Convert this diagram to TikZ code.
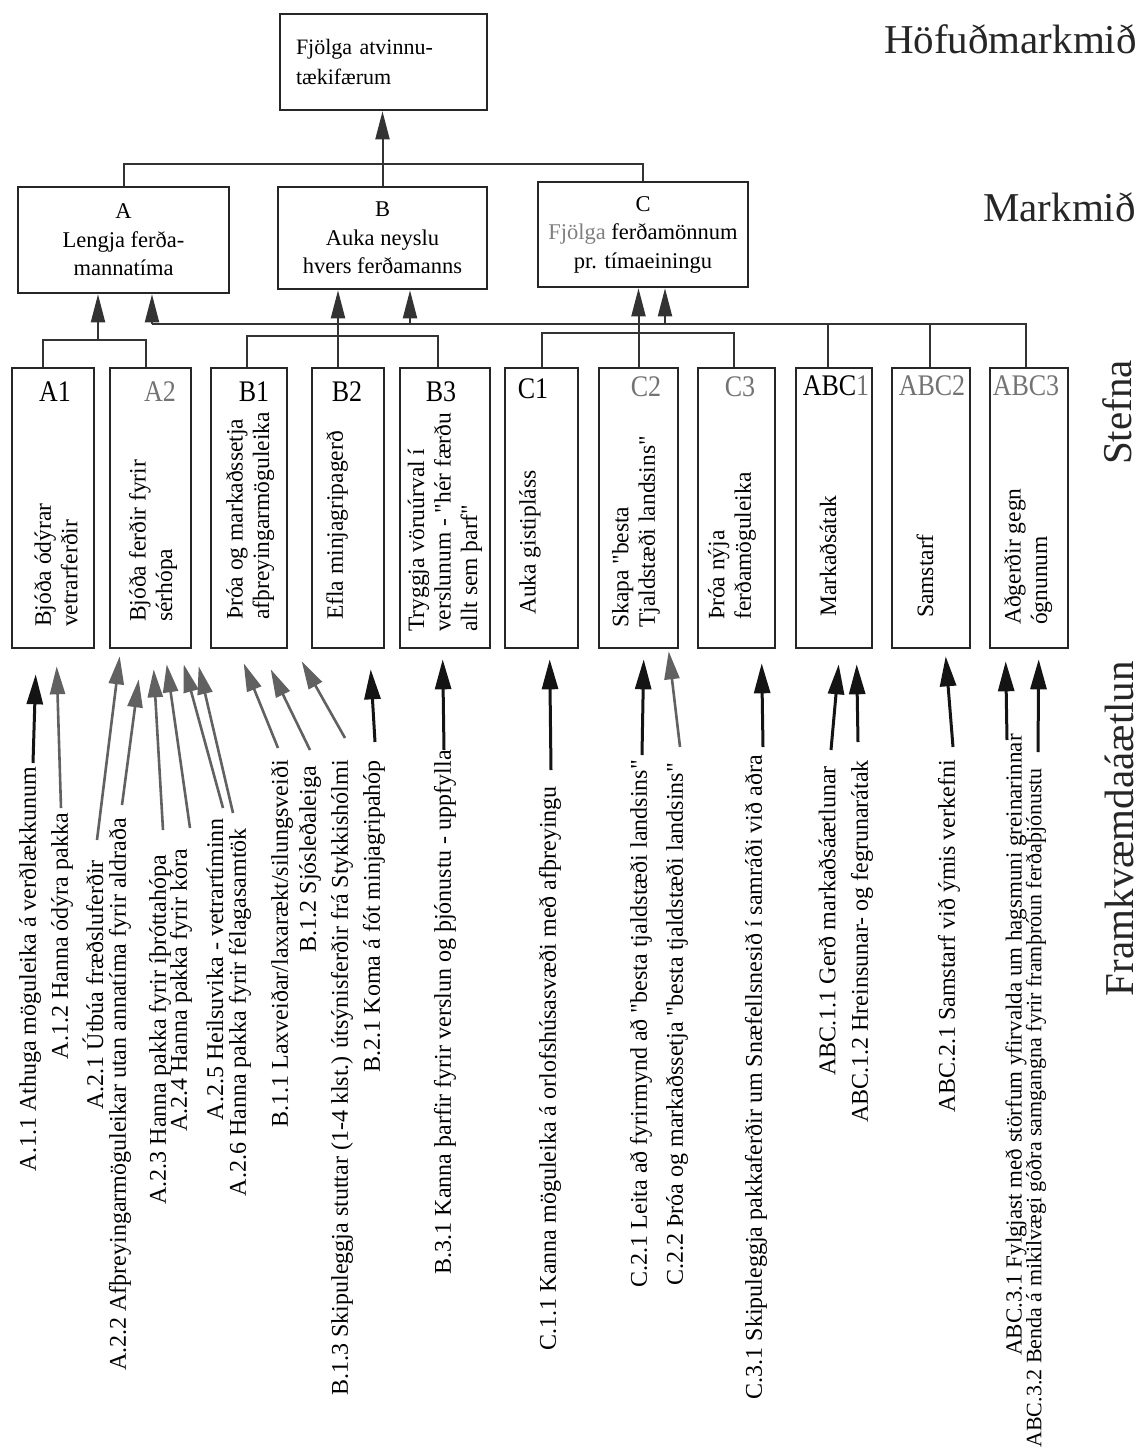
\documentclass[tikz,border=0pt]{standalone}
\usepackage{fontspec}
\usepackage{graphicx}
\setmainfont{Liberation Serif}[Ligatures=TeXOff]
\usetikzlibrary{arrows.meta}
\begin{document}
\begin{tikzpicture}[x=1pt,y=-1pt,
  box/.style={draw=black!85,line width=2.6pt,inner sep=0pt},
  con/.style={draw=black!80,line width=2pt},
  uparr/.style={con,-{Triangle[length=28pt,width=14pt]}},
  barr/.style={draw=black!92,line width=3pt,-{Triangle[length=30pt,width=16pt]}},
  garr/.style={draw=black!62,line width=2.6pt,-{Triangle[length=28pt,width=15pt]}},
  lab/.style={rotate=90,anchor=east,inner sep=0pt,font=\fontsize{24}{28}\selectfont},
  stext/.style={rotate=90,anchor=west,align=left,inner sep=0pt,font=\fontsize{23.5}{26.5}\selectfont},
  code/.style={inner sep=0pt,yscale=1.15,font=\fontsize{26}{30}\selectfont},
  gcode/.style={code,text=black!55},
  title/.style={inner sep=0pt,text=black!85,font=\fontsize{41}{48}\selectfont},
  mtext/.style={box,align=center,font=\fontsize{22.5}{28.5}\selectfont}
]
\fill[white] (0,0) rectangle (1139,1450);
\useasboundingbox (0,0) rectangle (1139,1450);

% titles
\node[title,anchor=base east] (t1) at (1137,54) {Höfuðmarkmið};
\node[title,anchor=base east] (t2) at (1136,222) {Markmið};
\node[title,rotate=90,anchor=base east] (t3) at (1131,360) {Stefna};
\node[title,rotate=90,anchor=base east] (t4) at (1133,661) {Framkvæmdaáætlun};

% top goal
\node[box,minimum width=207pt,minimum height=96pt,text width=175pt,align=left,font=\fontsize{22}{30}\selectfont] (top) at (383.5,62) {Fjölga atvinnu-\\tækifærum};

% goals
\node[mtext,minimum width=211pt,minimum height=106pt] (A) at (123.5,240) {A\\Lengja ferða-\\mannatíma};
\node[mtext,minimum width=209pt,minimum height=102pt] (B) at (382.5,238) {B\\Auka neyslu\\hvers ferðamanns};
\node[mtext,minimum width=210pt,minimum height=105pt] (C) at (643,234.5) {C\\\textcolor{black!50}{Fjölga} ferðamönnum\\pr. tímaeiningu};

% strategy boxes
\node[box,minimum width=82pt,minimum height=280pt] (A1) at (53,508) {};
\node[box,minimum width=81pt,minimum height=280pt] (A2) at (150.5,508) {};
\node[box,minimum width=76pt,minimum height=280pt] (B1) at (249,508) {};
\node[box,minimum width=72pt,minimum height=280pt] (B2) at (348,508) {};
\node[box,minimum width=90pt,minimum height=280pt] (B3) at (445,508) {};
\node[box,minimum width=73pt,minimum height=280pt] (C1) at (541.5,508) {};
\node[box,minimum width=79pt,minimum height=280pt] (C2) at (638.5,508) {};
\node[box,minimum width=77pt,minimum height=280pt] (C3) at (736.5,508) {};
\node[box,minimum width=76pt,minimum height=280pt] (ABC1) at (834,508) {};
\node[box,minimum width=78pt,minimum height=280pt] (ABC2) at (931,508) {};
\node[box,minimum width=78pt,minimum height=280pt] (ABC3) at (1029,508) {};

% codes
\node[code] (A1c) at (55,392) {A1};
\node[gcode] (A2c) at (160,392) {A2};
\node[code] (B1c) at (254,392) {B1};
\node[code] (B2c) at (347,392) {B2};
\node[code] (B3c) at (441,392) {B3};
\node[code] (C1c) at (533,389) {C1};
\node[gcode] (C2c) at (646,387) {C2};
\node[gcode] (C3c) at (740,387) {C3};
\node[code] (ABC1c) at (836,386) {ABC\textcolor{black!55}{1}};
\node[gcode] (ABC2c) at (932,386) {ABC2};
\node[gcode] (ABC3c) at (1026,386) {ABC3};

% strategy texts
\node[stext] (A1t) at (56,627) {Bjóða ódýrar\\vetrarferðir};
\node[stext] (A2t) at (153,622) {Bjóða ferðir fyrir\\sérhópa};
\node[stext] (B1t) at (250,620) {Þróa og markaðssetja\\afþreyingarmöguleika};
\node[stext] (B2t) at (337,620) {Efla minjagripagerð};
\node[stext] (B3t) at (445,632) {Tryggja vöruúrval í\\verslunum - "hér færðu\\allt sem þarf"};
\node[stext] (C1t) at (530,615) {Auka gistipláss};
\node[stext] (C2t) at (636,628) {Skapa "besta\\Tjaldstæði landsins"};
\node[stext] (C3t) at (732,620) {Þróa nýja\\ferðamöguleika};
\node[stext] (ABC1t) at (828,617) {Markaðsátak};
\node[stext] (ABC2t) at (925,618) {Samstarf};
\node[stext] (ABC3t) at (1028,625) {Aðgerðir gegn\\ógnunum};

% connectors top levels
\draw[uparr] (B.north) -- (B.north |- top.south);
\draw[con] (A.north) -- ++(0,-22) -| (C.north);

\coordinate (abr) at (98,340);
\draw[con] ([xshift=-10pt]A1.north) |- (abr) -| ([xshift=-5pt]A2.north);
\draw[uparr] (abr) -- (abr |- A.south);

\coordinate (bbr) at (338,336);
\draw[con] ([xshift=-2pt]B1.north) |- (bbr) -| ([xshift=-7pt]B3.north);
\draw[uparr] ([xshift=-10pt]B2.north) -- (bbr |- B.south);

\coordinate (cbr) at (638.5,333);
\draw[con] (C1.north) |- (cbr) -| ([xshift=-3pt]C3.north);
\draw[uparr] (C2.north) -- (C2.north |- C.south);

\coordinate (LL) at (152,324);
\coordinate (LLB) at (410,324);
\coordinate (LLC) at (665,324);
\draw[con] (LL) -| ([xshift=-3pt]ABC3.north);
\draw[con] ([xshift=-6pt]ABC1.north) -- ([xshift=-6pt]ABC1.north |- LL);
\draw[con] ([xshift=-1pt]ABC2.north) -- ([xshift=-1pt]ABC2.north |- LL);
\draw[uparr] (LL) -- (LL |- A.south);
\draw[uparr] (LLB) -- (LLB |- B.south);
\draw[uparr] (LLC) -- (LLC |- C.south);

% action labels
\node[lab] (l111) at (30,767) {A.1.1 Athuga möguleika á verðlækkunum};
\node[lab] (l112) at (62,813) {A.1.2 Hanna ódýra pakka};
\node[lab] (l221) at (93,860) {A.2.1 Útbúa fræðsluferðir};
\node[lab] (l222) at (120,818) {A.2.2 Afþreyingarmöguleikar utan annatíma fyrir aldraða};
\node[lab] (l223) at (160,855) {A.2.3 Hanna pakka fyrir íþróttahópa};
\node[lab] (l224) at (181,849) {A.2.4 Hanna pakka fyrir kóra};
\node[lab] (l225) at (215,818) {A.2.5 Heilsuvika - vetrartíminn};
\node[lab] (l226) at (240,828) {A.2.6 Hanna pakka fyrir félagasamtök};
\node[lab] (lB11) at (282,760) {B.1.1 Laxveiðar/laxarækt/silungsveiði};
\node[lab] (lB12) at (310,766) {B.1.2 Sjósleðaleiga};
\node[lab] (lB13) at (342,760) {B.1.3 Skipuleggja stuttar (1-4 klst.) útsýnisferðir frá Stykkishólmi};
\node[lab] (lB21) at (374,760) {B.2.1 Koma á fót minjagripahóp};
\node[lab] (lB31) at (445,750) {B.3.1 Kanna þarfir fyrir verslun og þjónustu - uppfylla};
\node[lab] (lC11) at (550,786) {C.1.1 Kanna möguleika á orlofshúsasvæði með afþreyingu};
\node[lab] (lC21) at (641,760) {C.2.1 Leita að fyrirmynd að "besta tjaldstæði landsins"};
\node[lab] (lC22) at (677,763) {C.2.2 Þróa og markaðssetja "besta tjaldstæði landsins"};
\node[lab] (lC31) at (756,755) {C.3.1 Skipuleggja pakkaferðir um Snæfellsnesið í samráði við aðra};
\node[lab] (lABC11) at (827,766) {ABC.1.1 Gerð markaðsáætlunar};
\node[lab] (lABC12) at (862,760) {ABC.1.2 Hreinsunar- og fegrunarátak};
\node[lab] (lABC21) at (949,760) {ABC.2.1 Samstarf við ýmis verkefni};
\node[lab,font=\fontsize{23}{27}\selectfont] (lABC31) at (1016,734) {ABC.3.1 Fylgjast með störfum yfirvalda um hagsmuni greinarinnar};
\node[lab,font=\fontsize{22}{26}\selectfont] (lABC32) at (1036,768) {ABC.3.2 Benda á mikilvægi góðra samgangna fyrir framþróun ferðaþjónustu};

% action arrows
\draw[barr] ([shift={(3,-4)}]l111.east) -- ([shift={(25,25)}]A1.south west);
\draw[garr] ([shift={(-1,-5)}]l112.east) -- ([shift={(46,17)}]A1.south west);
\draw[garr] ([shift={(4,-20)}]l221.east) -- ([shift={(11,7)}]A2.south west);
\draw[garr] ([shift={(2,-13)}]l222.east) -- ([shift={(30,30)}]A2.south west);
\draw[garr] ([shift={(3,-25)}]l223.east) -- ([shift={(45,20)}]A2.south west);
\draw[garr] ([shift={(9,-21)}]l224.east) -- ([shift={(58,15)}]A2.south west);
\draw[garr] ([shift={(8,-10)}]l225.east) -- ([shift={(75,15)}]A2.south west);
\draw[garr] ([shift={(-7,-15)}]l226.east) -- ([shift={(90,17)}]A2.south west);
\draw[garr] ([shift={(-4,-12)}]lB11.east) -- ([shift={(34,14)}]B1.south west);
\draw[garr] ([shift={(0,-16)}]lB12.east) -- ([shift={(61,20)}]B1.south west);
\draw[garr] ([shift={(3,-22)}]lB13.east) -- ([shift={(92,12)}]B1.south west);
\draw[barr] ([shift={(1,-18)}]lB21.east) -- ([shift={(60,20)}]B2.south west);
\draw[barr] ([shift={(-1,0)}]lB31.east) -- ([shift={(44,10)}]B3.south west);
\draw[barr] ([shift={(1,-16)}]lC11.east) -- ([shift={(46,10)}]C1.south west);
\draw[barr] ([shift={(1,-5)}]lC21.east) -- ([shift={(46,10)}]C2.south west);
\draw[garr] ([shift={(3,-16)}]lC22.east) -- ([shift={(71,2)}]C2.south west);
\draw[barr] ([shift={(7,-8)}]lC31.east) -- ([shift={(65,14)}]C3.south west);
\draw[barr] ([shift={(4,-16)}]lABC11.east) -- ([shift={(44,15)}]ABC1.south west);
\draw[barr] ([shift={(-4,-18)}]lABC12.east) -- ([shift={(62,15)}]ABC1.south west);
\draw[barr] ([shift={(4,-13)}]lABC21.east) -- ([shift={(55,7)}]ABC2.south west);
\draw[barr] ([shift={(-9,6)}]lABC31.east) -- ([shift={(17,12)}]ABC3.south west);
\draw[barr] ([shift={(2,-16)}]lABC32.east) -- ([shift={(50,10)}]ABC3.south west);
\end{tikzpicture}
\end{document}
